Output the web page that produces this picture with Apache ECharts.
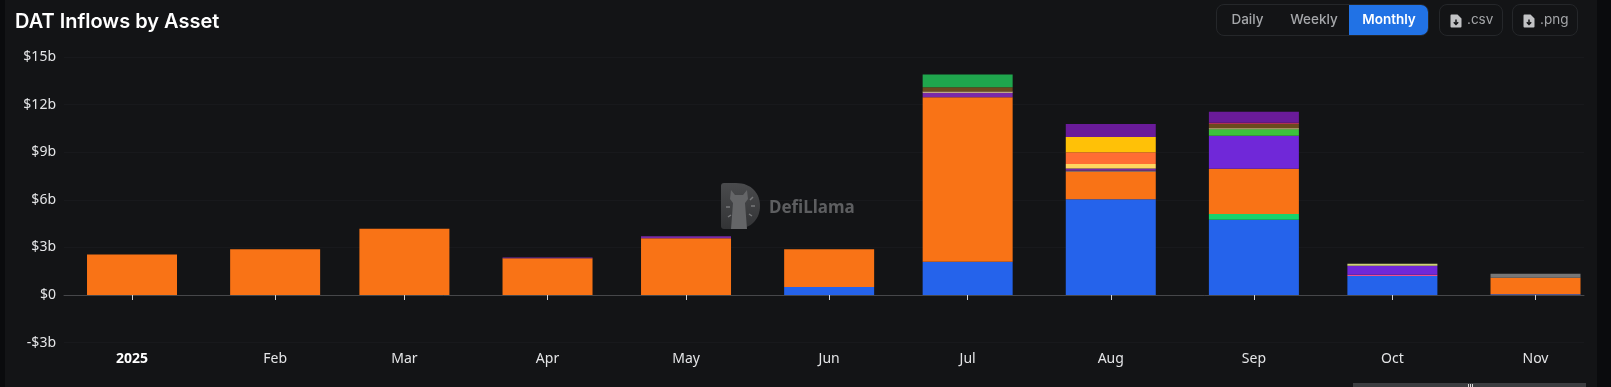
<!DOCTYPE html>
<html>
<head>
<meta charset="utf-8">
<script src="https://cdn.jsdelivr.net/npm/echarts@6/dist/echarts.min.js"></script>
<style>
  html, body { margin: 0; padding: 0; background: #0a0b0d; width: 1611px; height: 387px; overflow: hidden; }
  #panel { position: absolute; left: 5px; top: 0; width: 1592px; height: 387px; background: #131416; }
  #chart { position: absolute; left: 0; top: 0; width: 1611px; height: 387px; }
  .title { position: absolute; left: 15px; top: 8px; font: 600 20px Inter, sans-serif; color: #fff; line-height: 26px; }
  .btn_group, .btn_file { position: absolute; top: 4px; height: 32px; box-sizing: border-box; border: 1px solid #25272a; border-radius: 8px; font: 500 13.5px Inter, sans-serif; color: #a5a7aa; }
  .btn_group { left: 1216px; width: 213px; overflow: hidden; }
  .btn_group span { position: absolute; top: 0; height: 30px; line-height: 28px; text-align: center; }
  .btn_group .active { background: #2172e5; color: #fff; font-weight: 600; }
  .btn_file { line-height: 28px; font-weight: 400; }
  .btn_file svg { position: absolute; left: 10px; top: 9px; }
  .btn_file span { position: absolute; left: 27px; top: 0; }
  #slider { position: absolute; left: 1353px; top: 383px; width: 233px; height: 4px; background: #3c3d40; }
  #slider i { position: absolute; top: 1px; width: 1px; height: 3px; background: #d8d8d8; }
  #watermark { position: absolute; left: 721px; top: 183px; }
  #watermark span { position: absolute; left: 48px; top: 12px; font: bold 17px "Noto Sans", sans-serif; color: #5d5e60; white-space: nowrap; }
</style>
</head>
<body>
<div id="panel"></div>
<div id="chart"></div>
<div class="title">DAT Inflows by Asset</div>
<div class="btn_group">
  <span style="left:0;width:61px">Daily</span>
  <span style="left:62px;width:70px">Weekly</span>
  <span class="active" style="left:132px;width:80px">Monthly</span>
</div>
<div class="btn_file" style="left:1439px;width:64px">
  <svg width="12" height="14" viewBox="0 0 12 14"><path d="M1.5 0.5h6l4 4v8a1 1 0 0 1-1 1h-9a1 1 0 0 1-1-1v-11a1 1 0 0 1 1-1z" fill="#c2c3c5"/><path d="M6 5.5v5M3.8 8.2L6 10.5l2.2-2.3" fill="none" stroke="#131416" stroke-width="1.5"/></svg>
  <span>.csv</span>
</div>
<div class="btn_file" style="left:1512px;width:66px">
  <svg width="12" height="14" viewBox="0 0 12 14"><path d="M1.5 0.5h6l4 4v8a1 1 0 0 1-1 1h-9a1 1 0 0 1-1-1v-11a1 1 0 0 1 1-1z" fill="#c2c3c5"/><path d="M6 5.5v5M3.8 8.2L6 10.5l2.2-2.3" fill="none" stroke="#131416" stroke-width="1.5"/></svg>
  <span>.png</span>
</div>
<div id="watermark">
  <svg width="40" height="46" viewBox="0 0 40 46">
    <defs><linearGradient id="wm_d" x1="0" y1="0" x2="0" y2="1"><stop offset="0" stop-color="#4a4b4d"/><stop offset="1" stop-color="#333436"/></linearGradient></defs>
    <path d="M3 0H15C31 0 39 11 39 23S31 46 15 46H3Q0 46 0 43V3Q0 0 3 0Z" fill="url(#wm_d)"/>
    <path d="M10 7L14 12H22L26 7L27 16L24 20L26 46H10L12 20L9 16Z" fill="#646567"/>
    <path d="M5 24h4M7 34l3-2M32 14l-3 3M34 23h-4M31 33l-3-2" stroke="#77787a" stroke-width="1.5"/>
  </svg>
  <span>DefiLlama</span>
</div>
<div id="slider"><i style="left:115px"></i><i style="left:117px"></i><i style="left:119px"></i></div>
<script>
// months of 2025, Jan..Nov
var months = ["2025-01-01", "2025-02-01", "2025-03-01", "2025-04-01", "2025-05-01", "2025-06-01", "2025-07-01", "2025-08-01", "2025-09-01", "2025-10-01", "2025-11-01"];
var monthNames = ["2025", "Feb", "Mar", "Apr", "May", "Jun", "Jul", "Aug", "Sep", "Oct", "Nov"];
var yTicks = [-3, 0, 3, 6, 9, 12, 15];

// $b per month, bottom of the stack first
var blue       = [0, 0, 0, 0, 0, 0.50, 2.10, 6.03, 4.75, 1.20, 0.04];
var teal       = [0, 0, 0, 0, 0, 0, 0, 0, 0.36, 0, 0];
var orange     = [2.56, 2.88, 4.18, 2.32, 3.57, 2.39, 10.36, 1.72, 2.84, 0, 1.05];
var dusty      = [0, 0, 0, 0, 0, 0, 0, 0.09, 0, 0, 0];
var purple     = [0, 0, 0, 0.04, 0.14, 0, 0.29, 0.14, 0, 0, 0];
var sand       = [0, 0, 0, 0, 0, 0, 0, 0.27, 0, 0, 0];
var coral      = [0, 0, 0, 0, 0, 0, 0, 0.74, 0, 0, 0];
var gold       = [0, 0, 0, 0, 0, 0, 0, 0.97, 0, 0, 0];
var rose       = [0, 0, 0, 0, 0, 0, 0, 0, 0, 0.08, 0];
var violet     = [0, 0, 0, 0, 0, 0, 0, 0, 2.08, 0.57, 0];
var lime       = [0, 0, 0, 0, 0, 0, 0, 0, 0.42, 0, 0];
var cream      = [0, 0, 0, 0, 0, 0, 0.08, 0, 0.06, 0, 0];
var olive      = [0, 0, 0, 0, 0, 0, 0, 0, 0, 0.12, 0];
var brown      = [0, 0, 0, 0, 0, 0, 0.27, 0, 0.29, 0, 0];
var pink       = [0, 0, 0, 0, 0, 0, 0, 0, 0.06, 0, 0];
var darkPurple = [0, 0, 0, 0, 0, 0, 0, 0.82, 0.69, 0, 0];
var green      = [0, 0, 0, 0, 0, 0, 0.80, 0, 0, 0, 0];
var grey       = [0, 0, 0, 0, 0, 0, 0, 0, 0, 0, 0.25];

var stackList = [
  { name: "blue", values: blue, color: "#2563eb" },
  { name: "teal", values: teal, color: "#17d46c" },
  { name: "orange", values: orange, color: "#f97316" },
  { name: "dusty", values: dusty, color: "#8c6a5e" },
  { name: "purple", values: purple, color: "#7a2aa8" },
  { name: "sand", values: sand, color: "#ffd55f" },
  { name: "coral", values: coral, color: "#ff6d33" },
  { name: "gold", values: gold, color: "#ffc107" },
  { name: "rose", values: rose, color: "#f0508c" },
  { name: "violet", values: violet, color: "#7028d8" },
  { name: "lime", values: lime, color: "#3cc23c" },
  { name: "cream", values: cream, color: "#f0d8a0" },
  { name: "olive", values: olive, color: "#cfd27a" },
  { name: "brown", values: brown, color: "#6b4a1e" },
  { name: "pink", values: pink, color: "#e0356e" },
  { name: "darkPurple", values: darkPurple, color: "#6a1b9a" },
  { name: "green", values: green, color: "#1fa64d" },
  { name: "grey", values: grey, color: "#777777" }
];

function utc(day) {
  return new Date(day + "T00:00:00Z").getTime();
}

var DAY = 86400000;
var myChart = echarts.init(document.getElementById("chart"));

myChart.setOption({
  useUTC: true,
  animation: false,
  backgroundColor: "transparent",
  textStyle: { fontFamily: "'Noto Sans', sans-serif" },
  grid: { left: 64, right: 27, top: 57, bottom: 44.4, outerBoundsMode: "none" },
  xAxis: {
    type: "time",
    // echarts widens a time axis by half a bar on each side, these are before that
    min: utc(months[0]) - 4.985 * DAY,
    max: utc(months[10]) + 0.755 * DAY,
    splitLine: { show: false },
    axisLine: { lineStyle: { color: "#46474a", width: 1 } },
    axisTick: { show: true, length: 5, lineStyle: { color: "#cfd0d2" } },
    minorTick: { show: false },
    axisLabel: {
      margin: 9,
      fontSize: 14,
      color: "#e4e5e7",
      showMinLabel: false,
      showMaxLabel: false,
      hideOverlap: false,
      formatter: function (value) {
        var d = new Date(value);
        if (d.getUTCDate() !== 1) return "";
        var label = monthNames[d.getUTCMonth()];
        return d.getUTCMonth() === 0 ? "{year|" + label + "}" : label;
      },
      rich: { year: { fontWeight: "bold", fontSize: 14, color: "#fff", fontFamily: "'Noto Sans', sans-serif" } }
    }
  },
  yAxis: {
    type: "value",
    min: yTicks[0],
    max: yTicks[yTicks.length - 1],
    interval: 3,
    axisLine: { show: false },
    axisTick: { show: false },
    splitLine: { lineStyle: { color: "#18191c", width: 1 } },
    axisLabel: {
      margin: 8,
      fontSize: 14,
      color: "#e4e5e7",
      formatter: function (v) {
        return (v < 0 ? "-$" : "$") + Math.abs(v) + (v === 0 ? "" : "b");
      }
    }
  },
  series: stackList.map(function (item) {
    return {
      name: item.name,
      type: "bar",
      stack: "inflows",
      barWidth: 90,
      itemStyle: { color: item.color },
      data: item.values.map(function (v, i) {
        return [utc(months[i]), v];
      })
    };
  })
});
</script>
</body>
</html>
